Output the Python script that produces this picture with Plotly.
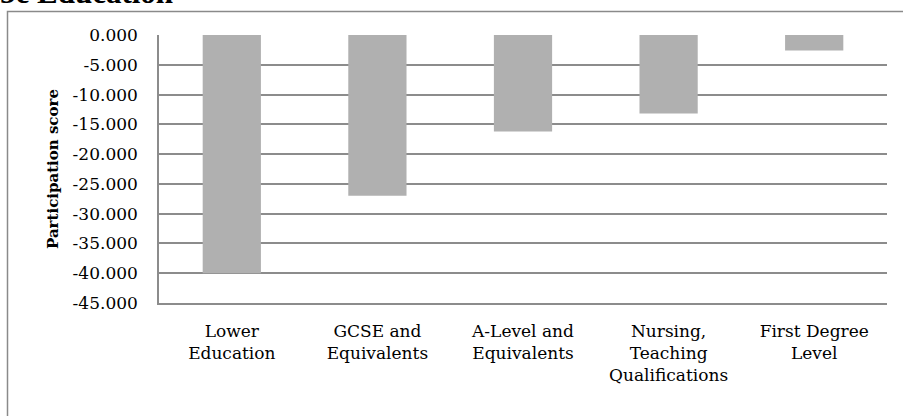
import plotly.graph_objects as go

categories = ["Lower<br>Education", "GCSE and<br>Equivalents", "A-Level and<br>Equivalents",
              "Nursing,<br>Teaching<br>Qualifications", "First Degree<br>Level"]
values = [-40.0, -27.0, -16.2, -13.2, -2.6]
tick_vals = [0, -5, -10, -15, -20, -25, -30, -35, -40, -45]
tick_text = [f"{v:.3f}" for v in tick_vals]

W, H = 903, 416
L, R, T, B = 159, 16, 35, 113
pw, ph = W - L - R, H - T - B

def px(x):
    return (x - L) / pw

def py(y):
    return (H - B - y) / ph

fig = go.Figure(go.Bar(x=categories, y=values, marker=dict(color="#b0b0b0", line=dict(width=0))))

grid = "#8c8c8c"
fig.update_layout(
    width=W, height=H,
    margin=dict(l=L, r=R, t=T, b=B, pad=0),
    paper_bgcolor="white", plot_bgcolor="white",
    bargap=0.6,
    showlegend=False,
    font=dict(family="DejaVu Serif", size=17, color="black"),
    xaxis=dict(showgrid=False, showline=True, linecolor=grid, linewidth=1.5,
               ticks="", ticklabelstandoff=12,
               tickfont=dict(family="DejaVu Serif", size=17, color="black")),
    yaxis=dict(range=[-45, 0], tickvals=tick_vals, ticktext=tick_text,
               showgrid=True, gridcolor=grid, gridwidth=1.5,
               zeroline=False, showline=True, linecolor=grid, linewidth=1.5,
               ticks="", ticklabelstandoff=16,
               tickfont=dict(family="DejaVu Serif", size=17, color="black")),
    shapes=[dict(type="rect", xref="paper", yref="paper",
                 x0=px(7.5), x1=2, y0=-2, y1=py(11.5),
                 line=dict(color="#8a8a8a", width=1.5), layer="below")],
    annotations=[
        dict(text="<b>5c Education</b>", xref="paper", yref="paper",
             x=px(-2), y=py(12), xanchor="left", yanchor="bottom", showarrow=False,
             font=dict(family="Liberation Serif", size=31, color="black")),
        dict(text="<b>Participation score</b>", xref="paper", yref="paper",
             x=px(53), y=0.5, xanchor="center", yanchor="middle", textangle=-90, showarrow=False,
             font=dict(family="DejaVu Serif", size=15, color="black")),
    ],
)

fig.write_html("out.html", config={"displayModeBar": False},
               post_script="document.body.style.margin='0';")
